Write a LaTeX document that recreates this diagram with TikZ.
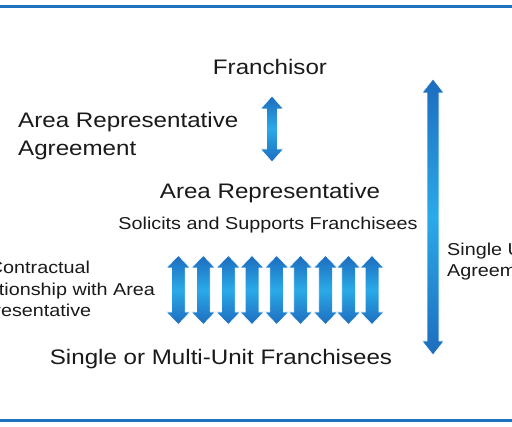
\documentclass[tikz,border=0pt]{standalone}
\usepackage{fontspec}
\setmainfont{Liberation Sans}[FakeStretch=1.15]
\definecolor{linecol}{HTML}{1F72BE}
\definecolor{arrdark}{HTML}{1D6CBE}
\definecolor{arrlight}{HTML}{2AAAE8}
\definecolor{txt}{HTML}{1A1A1A}
\newcommand\dblarr[6]{%
  \shade[arrowfill] (#1,#2) -- (#1+#4,#2+#6) -- (#1+#5,#2+#6) -- (#1+#5,#3-#6) -- (#1+#4,#3-#6) -- (#1,#3) -- (#1-#4,#3-#6) -- (#1-#5,#3-#6) -- (#1-#5,#2+#6) -- (#1-#4,#2+#6) -- cycle;}
\begin{document}
\begin{tikzpicture}[x=1pt,y=-1pt,
  arrowfill/.style={top color=arrdark, bottom color=arrdark, middle color=arrlight, draw=white, line width=0.6pt},
  bigtext/.style={text=txt, inner sep=0pt, font=\fontsize{21}{28}\selectfont},
  smalltext/.style={text=txt, inner sep=0pt, font=\fontsize{17.2}{21.5}\selectfont},
  rule/.style={draw=linecol, line width=2.7pt}]
\useasboundingbox (0,0) rectangle (512,427);
\fill[white] (0,0) rectangle (512,427);
\draw[rule] (0,6.3) -- (512,6.3);
\draw[rule] (0,420.5) -- (512,420.5);

\node[bigtext, anchor=base] (franchisor) at (270,74.5) {Franchisor};
% multi-line nodes: base anchor = baseline of the last line
\node[bigtext, anchor=base west, align=left] (araggr) at (18,155.5) {Area Representative\\Agreement};
\node[bigtext, anchor=base] (arep) at (270,199) {Area Representative};
\node[smalltext, anchor=base] (solicits) at (268,230) {Solicits and Supports Franchisees};
\node[smalltext, anchor=base west, align=left] (nocontract) at (-42,317) {No Contractual\\Relationship with Area\\Representative};
\node[bigtext, anchor=base] (franchisees) at (221,365) {Single or Multi-Unit Franchisees};
\node[smalltext, anchor=base west, align=left] (sua) at (447,277) {Single Unit\\Agreement};

% arrow between Franchisor and Area Representative
\dblarr{272}{96}{162}{11.5}{5.5}{13}
% long arrow on the right
\dblarr{433}{79}{355}{11}{6}{14}
% nine arrows to franchisees
\foreach \xx in {178.3,203.3,228.3,252,276.7,300.5,325.5,348.5,372}{
  \dblarr{\xx}{255.5}{324.5}{12}{6.8}{12.5}
}
\end{tikzpicture}
\end{document}
